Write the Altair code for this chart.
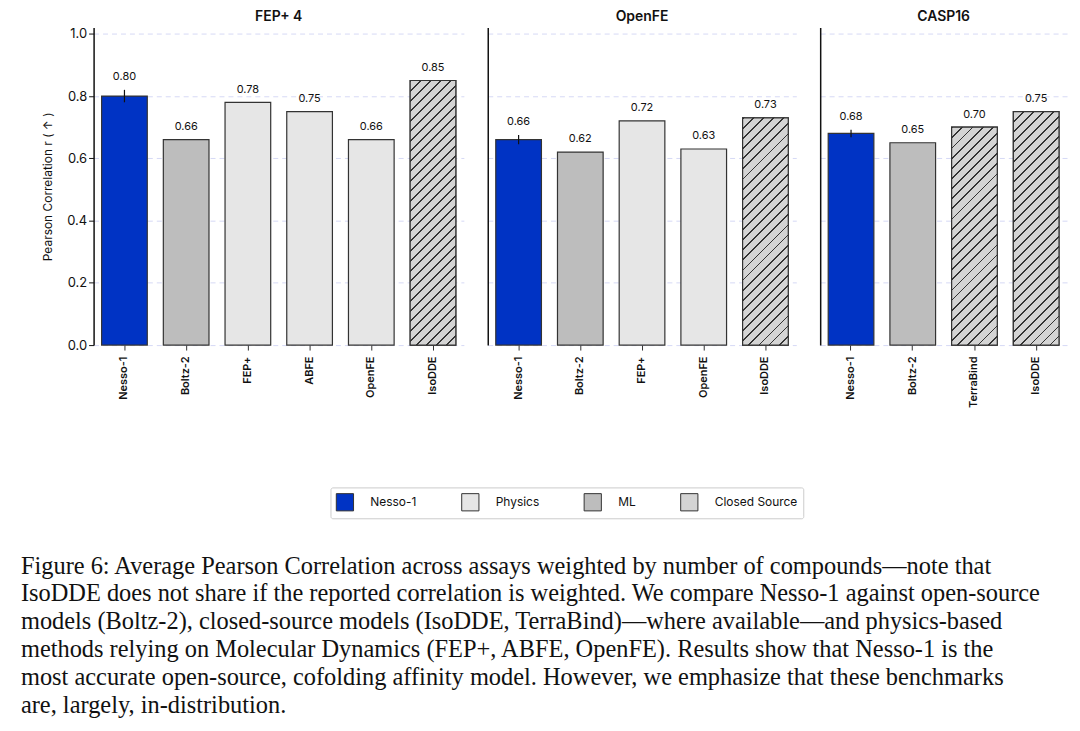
import altair as alt
import pandas as pd

# values
panels = ["FEP+ 4", "OpenFE", "CASP16"]
methods = [
    ["Nesso-1", "Boltz-2", "FEP+", "ABFE", "OpenFE", "IsoDDE"],
    ["Nesso-1", "Boltz-2", "FEP+", "OpenFE", "IsoDDE"],
    ["Nesso-1", "Boltz-2", "TerraBind", "IsoDDE"],
]
values = [
    [0.80, 0.66, 0.78, 0.75, 0.66, 0.85],
    [0.66, 0.62, 0.72, 0.63, 0.73],
    [0.68, 0.65, 0.70, 0.75],
]
kinds = [
    ["Nesso-1", "ML", "Physics", "Physics", "Physics", "Closed Source"],
    ["Nesso-1", "ML", "Physics", "Physics", "Closed Source"],
    ["Nesso-1", "ML", "Closed Source", "Closed Source"],
]
nesso_err = [0.02, 0.015, 0.012]

legend_order = ["Nesso-1", "Physics", "ML", "Closed Source"]
legend_colors = ["#0033c4", "#e6e6e6", "#bdbdbd", "#d4d4d4"]

caption = [
    "Figure 6: Average Pearson Correlation across assays weighted by number of compounds\u2014note that",
    "IsoDDE does not share if the reported correlation is weighted. We compare Nesso-1 against open-source",
    "models (Boltz-2), closed-source models (IsoDDE, TerraBind)\u2014where available\u2014and physics-based",
    "methods relying on Molecular Dynamics (FEP+, ABFE, OpenFE). Results show that Nesso-1 is the",
    "most accurate open-source, cofolding affinity model. However, we emphasize that these benchmarks",
    "are, largely, in-distribution.",
]

FONT = "Inter"
STEP = 62
H = 319
YMAX = 1.02


def hatch(w, h):
    # diagonal stripes via a hard-stop linear gradient, sized for the bar's pixels
    k = (w + h) / (w * w + h * h)
    n = int((w + h) / 10)
    stops = []
    for i in range(n):
        a, b, c = i / n, (i + 0.18) / n, (i + 1) / n
        stops += [
            alt.GradientStop(offset=a, color="#333333"),
            alt.GradientStop(offset=b, color="#333333"),
            alt.GradientStop(offset=b, color="#d4d4d4"),
            alt.GradientStop(offset=c, color="#d4d4d4"),
        ]
    return alt.Gradient(gradient="linear", x1=0, y1=0, x2=w * k, y2=h * k, stops=stops)


charts = []
for p, (name, ms, vs, ks, err) in enumerate(zip(panels, methods, values, kinds, nesso_err)):
    df = pd.DataFrame({"method": ms, "value": vs, "kind": ks})
    df["lo"] = df["value"] - [err if m == "Nesso-1" else 0 for m in ms]
    df["hi"] = df["value"] + [err if m == "Nesso-1" else 0 for m in ms]
    df["label"] = [f"{v:.2f}" for v in vs]
    df["ly"] = [v + (err + 0.015 if m == "Nesso-1" else 0.015) for m, v in zip(ms, vs)]

    first = p == 0
    x = alt.X("method:N", sort=ms, title=None,
              scale=alt.Scale(paddingInner=0.26, paddingOuter=0.13),
              axis=alt.Axis(labelAngle=-90, labelFont=FONT, labelFontSize=11,
                            labelFontWeight=600, labelColor="#111", domain=False,
                            ticks=True, tickColor="#333", labelPadding=6))
    y = alt.Y("value:Q", scale=alt.Scale(domain=[0, YMAX], nice=False),
              title="Pearson Correlation r ( \u2191 )" if first else None,
              axis=alt.Axis(values=[0, 0.2, 0.4, 0.6, 0.8, 1.0], format=".1f",
                            labels=first, ticks=first, labelFont=FONT, labelFontSize=13,
                            labelColor="#111", titleFont=FONT, titleFontSize=12,
                            titleFontWeight="normal", titleColor="#111", titlePadding=12,
                            grid=True, gridDash=[5, 4], gridColor="#d6d9f5",
                            domainColor="#111", domainWidth=1.5, tickColor="#111"))
    base = alt.Chart(df)
    bars = base.mark_bar(stroke="#333", strokeWidth=1.2).encode(
        x=x, y=y,
        color=alt.Color("kind:N", scale=alt.Scale(domain=legend_order, range=legend_colors),
                        legend=alt.Legend(title=None) if first else None),
    )
    layers = [bars]
    bw = STEP * 0.74
    for m, v, kd in zip(ms, vs, ks):
        if kd == "Closed Source":
            layers.append(
                base.transform_filter(alt.datum.method == m)
                .mark_bar(fill=hatch(bw, v / YMAX * H), stroke="#333", strokeWidth=1.2)
                .encode(x=x, y=y)
            )
    layers.append(
        base.transform_filter(alt.datum.method == "Nesso-1")
        .mark_rule(color="#111", strokeWidth=1.2)
        .encode(x=x, y="lo:Q", y2="hi:Q")
    )
    layers.append(
        base.mark_text(baseline="bottom", dy=-3, font=FONT, fontSize=11, color="#111")
        .encode(x=x, y=alt.Y("ly:Q"), text="label:N")
    )
    charts.append(
        alt.layer(*layers).properties(
            width=STEP * len(ms), height=H,
            title=alt.TitleParams(name, font=FONT, fontSize=14, fontWeight=600, color="#111", offset=4),
        )
    )

chart = (
    alt.hconcat(*charts, spacing=24)
    .properties(
        padding={"left": 12, "top": 0, "right": 5, "bottom": 0},
        title=alt.TitleParams(caption, orient="bottom", anchor="start", font="Liberation Serif",
                              fontSize=24.5, fontWeight="normal", color="#111", lineHeight=28,
                              offset=36, dx=-21),
    )
    .configure_view(stroke=None)
    .configure_legend(orient="none", legendX=238, legendY=462, direction="horizontal",
                      labelFont=FONT, labelFontSize=12, labelColor="#111", symbolType="square",
                      symbolSize=300, symbolStrokeColor="#333", symbolStrokeWidth=1,
                      strokeColor="#cccccc", padding=5, cornerRadius=2, columnPadding=42,
                      labelOffset=16, fillColor="white")
)

chart.save("out.html", embed_options={"renderer": "svg", "actions": False})
